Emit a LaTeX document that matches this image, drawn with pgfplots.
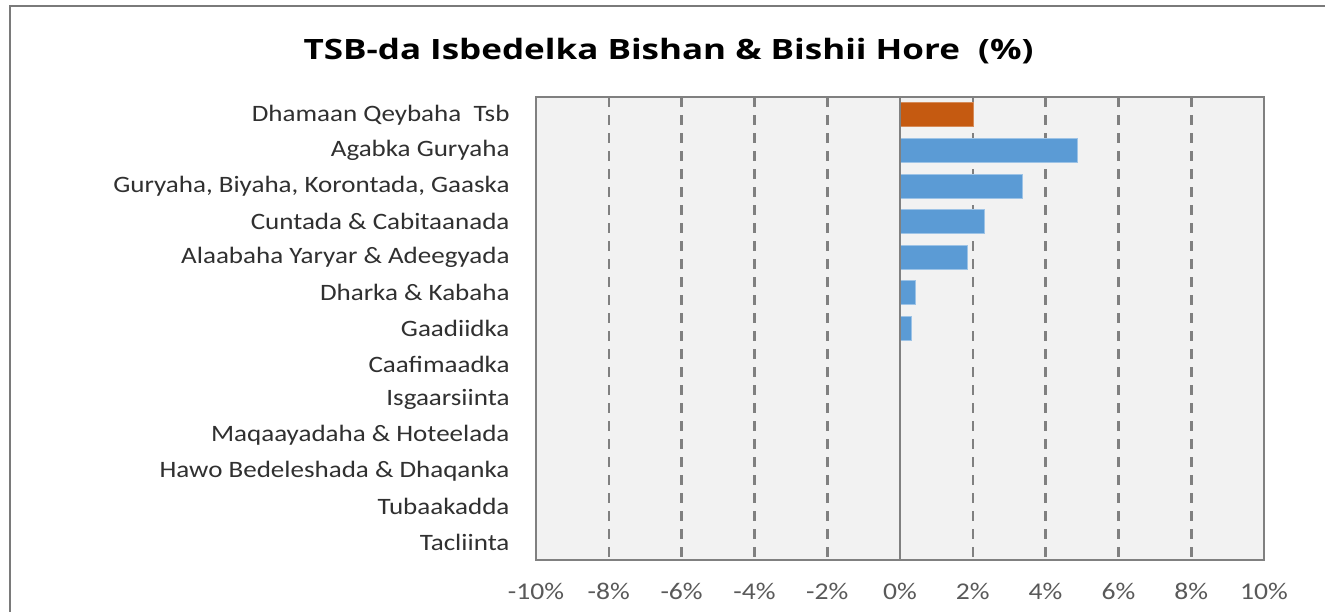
\documentclass[border=0pt]{standalone}
\usepackage{pgfplots}
\pgfplotsset{compat=1.18}
\usepackage{fontspec}
\setmainfont{Carlito}[FakeStretch=1.15]
\newfontfamily\titlefont{Open Sans}[FakeStretch=1.25]
\definecolor{barblue}{HTML}{5B9BD5}
\definecolor{barorange}{HTML}{C55A11}
\definecolor{plotbg}{HTML}{F2F2F2}
\definecolor{gridgray}{HTML}{808080}
\definecolor{ticktext}{HTML}{595959}
\definecolor{labtext}{HTML}{303030}
\definecolor{framegray}{HTML}{7A7A7A}
\begin{document}
\begin{tikzpicture}[x=1pt,y=1pt]
\path[use as bounding box, fill=white] (0,0) rectangle (1325,611);
\draw[framegray, line width=2.5pt] (10,-5) -- (10,605) -- (1330,605);
\node[anchor=base, font=\titlefont\fontsize{28}{34}\selectfont\bfseries, text=black] at (668.5,551) {TSB-da Isbedelka Bishan \& Bishii Hore\ \ (\%)};
\begin{axis}[
  at={(536pt,51pt)}, anchor=south west,
  scale only axis, width=728pt, height=463pt,
  xmin=-10, xmax=10, ymin=-0.5, ymax=12.5,
  y dir=reverse,
  axis background/.style={fill=plotbg},
  axis line style={draw=gridgray, line width=2pt},
  xtick={-10,-8,...,10},
  ytick={0,...,12},
  yticklabels={Dhamaan Qeybaha\ \ Tsb, Agabka Guryaha, {Guryaha, Biyaha, Korontada, Gaaska\ }, Cuntada \& Cabitaanada, Alaabaha Yaryar \& Adeegyada, Dharka \& Kabaha, Gaadiidka, Caafimaadka, Isgaarsiinta, Maqaayadaha \& Hoteelada, Hawo Bedeleshada \& Dhaqanka, Tubaakadda, Tacliinta},
  xticklabel={\pgfmathprintnumber{\tick}\%},
  /pgf/number format/assume math mode=true,
  tick style={draw=none},
  xticklabel style={font=\fontsize{24}{28}\selectfont, text=ticktext, yshift=-20pt},
  yticklabel style={font=\fontsize{23.5}{28}\selectfont, text=labtext, xshift=-23pt},
  xmajorgrids=true,
  major grid style={draw=gridgray, line width=2.6pt, dash pattern=on 10pt off 8pt},
]
\addplot[xbar, bar shift=0pt, bar width=24pt, fill=barorange, draw=barorange!70!white, line width=0.8pt]
  coordinates {(2.02,0)};
\addplot[xbar, bar shift=0pt, bar width=24pt, fill=barblue, draw=barblue!60!white, line width=0.8pt]
  coordinates {(4.86,1) (3.37,2) (2.31,3) (1.84,4) (0.42,5) (0.30,6)};
\draw[gridgray, line width=2.6pt] (axis cs:0,-0.5) -- (axis cs:0,12.5);
\end{axis}
\end{tikzpicture}
\end{document}
